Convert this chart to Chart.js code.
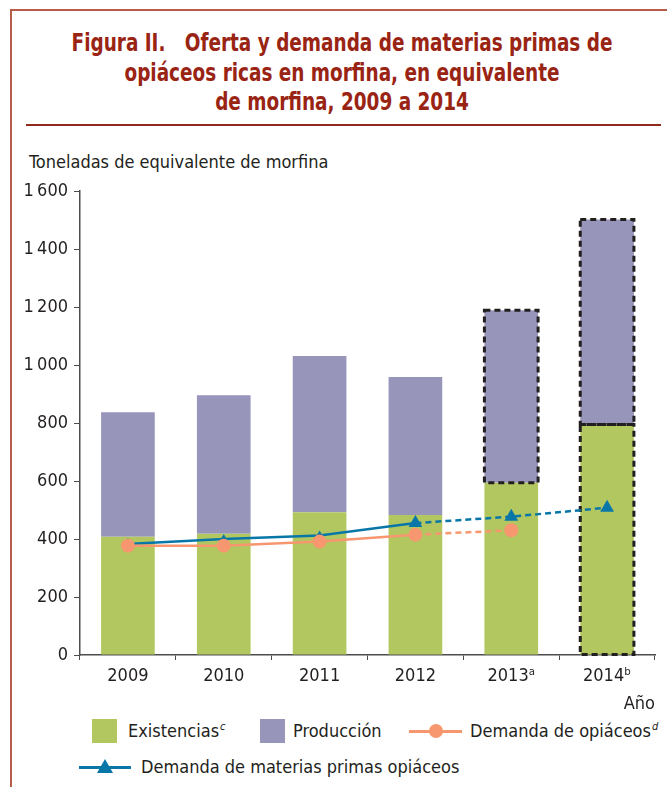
<!DOCTYPE html>
<html>
<head>
<meta charset="utf-8">
<script src="https://cdn.jsdelivr.net/npm/chart.js@4.4.1/dist/chart.umd.min.js"></script>
<style>
  body { margin: 0; background: #fff; }
  #page { position: relative; width: 667px; height: 787px; overflow: hidden;
          font-family: "Liberation Sans Narrow", "DejaVu Sans Condensed", sans-serif; color: #231f20; }
  #frame { position: absolute; left: 10px; top: 9px; width: 680px; height: 800px;
           border-left: 2px solid #b85c4a; border-top: 2px solid #b85c4a; }
  #title { position: absolute; left: 0; top: 28px; width: 684px; text-align: center; font-weight: bold;
           font-size: 25px; line-height: 29.5px; color: #9a2414; white-space: pre;
           transform: scaleX(0.82); transform-origin: 342px 0; }
  #rule { position: absolute; left: 26px; top: 124px; width: 635px; height: 2px; background: #8e2b1b; }
  #ylab { position: absolute; left: 29px; top: 151px; font-size: 18px; line-height: 22px; }
  #wrap { position: absolute; left: 0; top: 170px; width: 667px; height: 545px; }
  .sq { position: absolute; width: 25px; height: 24px; }
  .lt { position: absolute; font-size: 18px; line-height: 24px; white-space: nowrap; }
  .lt i { font-size: 11px; position: relative; top: -7px; margin-left: 1px; }
</style>
</head>
<body>
<div id="page">
  <div id="frame"></div>
  <div id="title">Figura II.   Oferta y demanda de materias primas de
opiáceos ricas en morfina, en equivalente
de morfina, 2009 a 2014</div>
  <div id="rule"></div>
  <div id="ylab">Toneladas de equivalente de morfina</div>
  <div id="wrap"><canvas id="chart"></canvas></div>

  <div class="sq" style="left:92px;top:719px;background:#b3c760"></div>
  <div class="lt" style="left:128px;top:719px">Existencias<i>c</i></div>
  <div class="sq" style="left:260px;top:719px;background:#9895bb"></div>
  <div class="lt" style="left:293px;top:719px">Producción</div>
  <div style="position:absolute;left:409px;top:729.5px;width:53px;height:3px;background:#f6976f"></div>
  <div style="position:absolute;left:429px;top:724px;width:14px;height:14px;border-radius:50%;background:#f6976f"></div>
  <div class="lt" style="left:470px;top:719px">Demanda de opiáceos<i>d</i></div>
  <div style="position:absolute;left:79px;top:765.5px;width:52px;height:3px;background:#0877a8"></div>
  <div style="position:absolute;left:97px;top:759px;width:0;height:0;border-left:8px solid transparent;border-right:8px solid transparent;border-bottom:14px solid #0877a8"></div>
  <div class="lt" style="left:141px;top:755px">Demanda de materias primas opiáceos</div>
</div>

<script>
// datos (toneladas de equivalente de morfina)
const years = ['2009', '2010', '2011', '2012', '2013ᵃ', '2014ᵇ'];
const existencias = [408, 418, 492, 483, 594, 795];
const produccion = [429, 478, 539, 476, 595, 707];
const demandaOpiaceos = [377, 377, 391, 415, 430, null];
const demandaMaterias = [383, 400, 412, 455, 477, 508];
const yMin = 0, yMax = 1600, yStep = 200;

// barras estimadas (contorno punteado)
const dashedExistencias = [5];
const dashedProduccion = [4, 5];

const green = '#b3c760';
const purple = '#9895bb';
const orange = '#f6976f';
const blue = '#0877a8';
const ink = '#231f20';
const axisColor = '#4d4d4f';
const fontFamily = '"Liberation Sans Narrow", "DejaVu Sans Condensed", sans-serif';

Chart.defaults.font.family = fontFamily;
Chart.defaults.color = ink;

const dashedBoxes = {
  id: 'dashedBoxes',
  afterDatasetDraw(chart, args) {
    if (args.index !== 0) return;
    const ctx = chart.ctx;
    ctx.save();
    ctx.setLineDash([6, 4]);
    ctx.lineWidth = 3;
    ctx.strokeStyle = ink;
    [[0, dashedExistencias], [1, dashedProduccion]].forEach(([ds, idxs]) => {
      const meta = chart.getDatasetMeta(ds);
      idxs.forEach(i => {
        const { x, y, base, width } = meta.data[i].getProps(['x', 'y', 'base', 'width'], true);
        ctx.strokeRect(x - width / 2, y, width, base - y);
      });
    });
    ctx.restore();
  }
};

const dashFrom3 = ctx => ctx.p0DataIndex >= 3 ? [6, 4] : undefined;

new Chart(document.getElementById('chart'), {
  type: 'bar',
  data: {
    labels: years,
    datasets: [
      { label: 'Existencias', data: existencias, backgroundColor: green, stack: 'bars', order: 2,
        barPercentage: 0.56, categoryPercentage: 1 },
      { label: 'Producción', data: produccion, backgroundColor: purple, stack: 'bars', order: 2,
        barPercentage: 0.56, categoryPercentage: 1 },
      { type: 'line', label: 'Demanda de opiáceos', data: demandaOpiaceos, stack: 'l1', order: 0,
        borderColor: orange, backgroundColor: orange, borderWidth: 2.5,
        pointStyle: 'circle', pointRadius: 7, pointBorderWidth: 0,
        segment: { borderDash: dashFrom3 } },
      { type: 'line', label: 'Demanda de materias primas opiáceos', data: demandaMaterias, stack: 'l2', order: 1,
        borderColor: blue, backgroundColor: blue, borderWidth: 2.5,
        pointStyle: 'triangle', pointRadius: [6, 5, 5, 8, 8, 8], pointBorderWidth: 0,
        segment: { borderDash: dashFrom3 } }
    ]
  },
  options: {
    responsive: true,
    maintainAspectRatio: false,
    animation: false,
    layout: { padding: { top: 21, right: 12, bottom: 0, left: 0 } },
    plugins: { legend: { display: false }, tooltip: { enabled: false } },
    scales: {
      x: {
        stacked: true,
        afterFit: s => { s.height = 60; },
        grid: { drawOnChartArea: false, tickLength: 5, color: axisColor },
        border: { color: axisColor, width: 1.5 },
        ticks: { padding: 6, font: { size: 18 }, color: ink },
        title: { display: true, text: 'Año', align: 'end', font: { size: 18 }, color: ink, padding: 0 }
      },
      y: {
        stacked: true,
        min: yMin, max: yMax,
        afterFit: s => { s.width = 80; },
        grid: { drawOnChartArea: false, tickLength: 6, color: axisColor },
        border: { color: axisColor, width: 1.5 },
        ticks: {
          stepSize: yStep, padding: 6, font: { size: 18 }, color: ink,
          callback: v => v >= 1000 ? String(v).replace(/(\d)(\d{3})$/, '$1\u2009$2') : String(v)
        }
      }
    }
  },
  plugins: [dashedBoxes]
});
</script>
</body>
</html>
